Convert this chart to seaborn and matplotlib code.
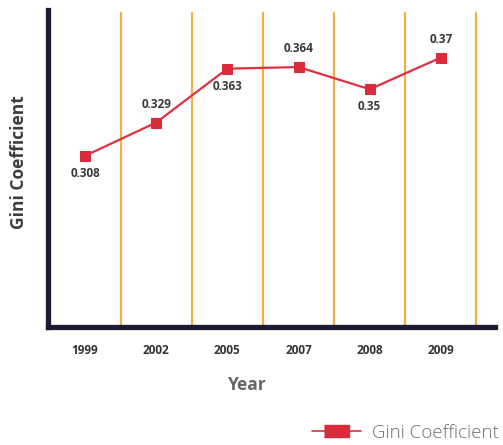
import matplotlib
matplotlib.use("Agg")
import matplotlib.pyplot as plt
import seaborn as sns
import pandas as pd
from matplotlib.lines import Line2D

years = ["1999", "2002", "2005", "2007", "2008", "2009"]
gini = [0.308, 0.329, 0.363, 0.364, 0.35, 0.37]
label_above = [False, True, False, True, False, True]

sns.set_style("white")
plt.rcParams['font.family'] = ['Open Sans', 'DejaVu Sans']

df = pd.DataFrame({"pos": range(len(years)), "Gini Coefficient": gini})

fig = plt.figure(figsize=(5.03, 4.45), dpi=100)
ax = fig.add_axes([48/503, 1-327/445, (495-48)/503, (327-10)/445])

for i in range(len(years)):
    ax.axvline(i + 0.5, ymin=0, ymax=0.99, color="#f4ae45", lw=1.6, zorder=1)

sns.lineplot(data=df, x="pos", y="Gini Coefficient", ax=ax, color="#e03040",
             lw=1.6, marker="s", markersize=7.5, markeredgecolor="#d92b3a",
             markerfacecolor="#d92b3a", zorder=3)

for i, (v, up) in enumerate(zip(gini, label_above)):
    ax.annotate(f"{v:g}", (i, v), xytext=(0, 8.5 if up else -8),
                textcoords="offset points", ha="center",
                va="bottom" if up else "top", fontsize=8.5,
                fontweight="bold", color="#3a3a3a")

ax.set_xlim(-0.52, 5.76)
ax.set_ylim(0.2, 0.4)
ax.set_xticks(range(len(years)))
ax.set_xticklabels(years, fontsize=8.5, fontweight="bold", color="#333333")
ax.set_yticks([])
ax.tick_params(axis="x", length=0, pad=12)
for s in ["top", "right"]:
    ax.spines[s].set_visible(False)
for s in ["left", "bottom"]:
    ax.spines[s].set_color("#1e1a33")
    ax.spines[s].set_linewidth(3.8)
ax.set_xlabel("Year", fontsize=12.5, fontweight="bold", color="#666666")
ax.xaxis.set_label_coords(0.447, -0.155)
ax.set_ylabel("Gini Coefficient", fontsize=12.5, fontweight="bold", color="#3d3d3d")
ax.yaxis.set_label_coords(-0.045, 0.52)
if ax.get_legend():
    ax.get_legend().remove()

handle = Line2D([], [], color="#e03040", lw=1.2,
                marker=[(-1, -0.5), (1, -0.5), (1, 0.5), (-1, 0.5)], markersize=18,
                markerfacecolor="#d92b3a", markeredgecolor="#d92b3a")
fig.legend([handle], ["Gini Coefficient"], loc="center right",
           bbox_to_anchor=(1.025, 1-433/445), frameon=False,
           labelcolor="#707070", handlelength=2.6, handletextpad=0.6,
           prop={"weight": "light", "size": 13.5})

fig.savefig("out.png", dpi=100)
